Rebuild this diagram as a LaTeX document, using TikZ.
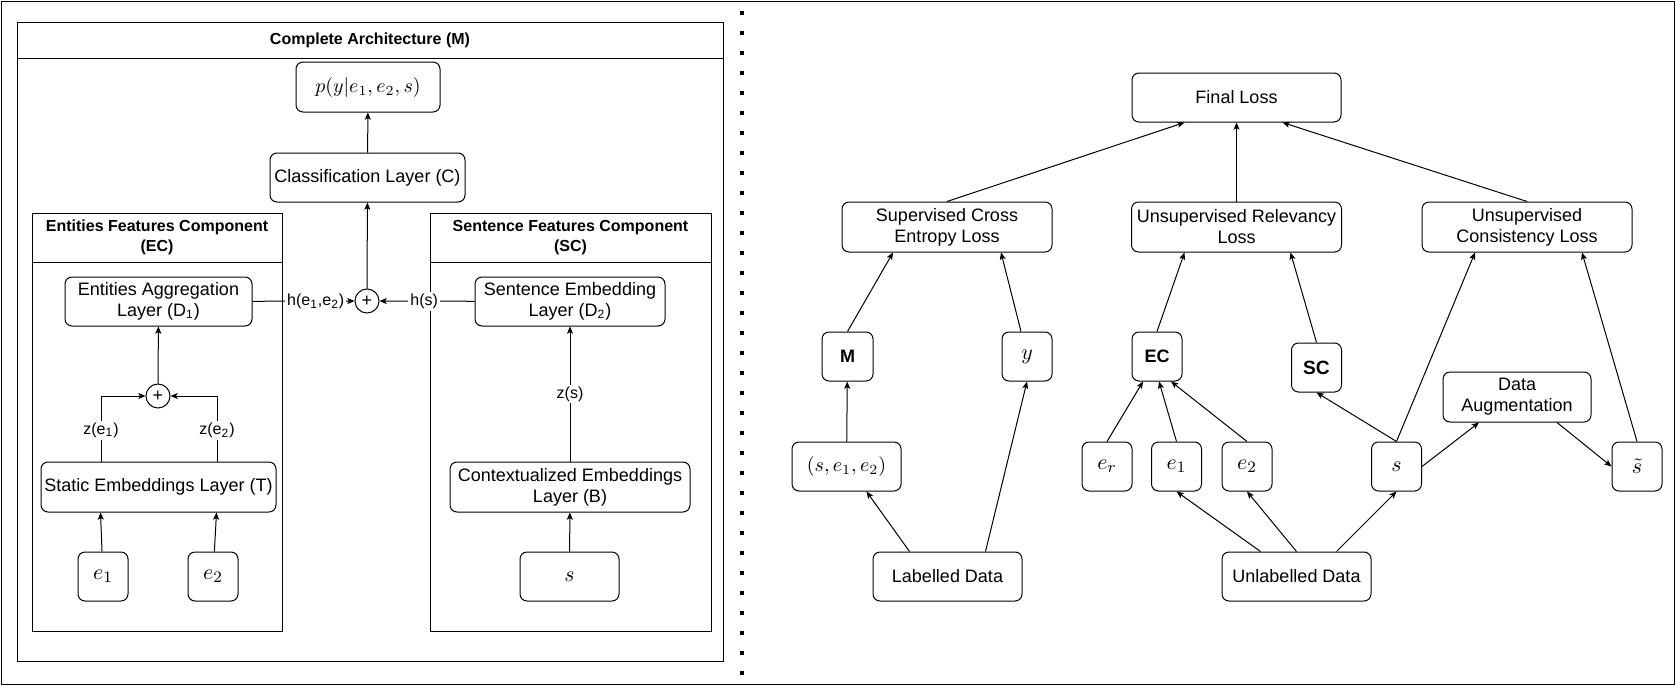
\documentclass[tikz,border=0pt]{standalone}
\usepackage{amsmath, amssymb}
\usepackage{fontspec}
\setmainfont{Liberation Sans}
\usepackage{tikz}
\usetikzlibrary{arrows.meta, calc}

\begin{document}
\begin{tikzpicture}[x=0.5pt, y=-0.5pt, line width=0.5pt,
    box/.style={draw, rounded corners=3.5pt, align=center, inner sep=1pt, minimum height=24.5pt, font=\fontsize{9}{10.5}\selectfont},
    mbox/.style={box, font=\fontsize{10}{12}\selectfont},
    ebox/.style={box, minimum width=25pt, font=\fontsize{11}{13}\selectfont},
    bbox/.style={box, font=\bfseries\fontsize{9}{10.5}\selectfont},
    plusnode/.style={draw, circle, minimum size=12pt, inner sep=0pt, font=\fontsize{9}{10}\selectfont},
    lane/.style={font=\bfseries\fontsize{8}{10}\selectfont, align=center},
    lbl/.style={fill=white, inner sep=1pt, font=\fontsize{8}{9}\selectfont},
    arr/.style={-{Stealth[length=3.6pt, width=3pt, inset=0.8pt]}}
  ]
  \useasboundingbox (0,0) rectangle (1675,685);
  \draw (1,1) rectangle (1674,684);

  % left half: the model
  \draw (17,22) rectangle (723,661);
  \draw (17,58) -- (723,58);
  \node[lane] (mtitle) at (370,40) {Complete Architecture (M)};

  \draw (32,213) rectangle (282,631);
  \draw (32,262) -- (282,262);
  \node[lane] (ectitle) at (157,237.5) {Entities Features Component\\(EC)};

  \draw (430,213) rectangle (711,631);
  \draw (430,262) -- (711,262);
  \node[lane] (sctitle) at (570.5,237.5) {Sentence Features Component\\(SC)};

  \node[box, minimum width=72pt, minimum height=25pt, font=\fontsize{9.6}{12}\selectfont] (prob) at (368,87) {$p(y|e_1,e_2,s)$};
  \node[box, minimum width=97.5pt] (cls) at (367.5,177.5) {Classification Layer (C)};
  \node[plusnode] (cat) at (367,301) {+};
  \node[box, minimum width=93.5pt] (dA) at (158.5,301.5) {Entities Aggregation\\Layer (D\textsubscript{1})};
  \node[box, minimum width=95pt] (dB) at (570,301.5) {Sentence Embedding\\Layer (D\textsubscript{2})};
  \node[plusnode] (ecat) at (158,396) {+};
  \node[box, minimum width=117.5pt, minimum height=25pt] (stat) at (158.5,487) {Static Embeddings Layer (T)};
  \node[box, minimum width=120pt, minimum height=25pt] (ctx) at (570,487) {Contextualized Embeddings\\Layer (B)};
  \node[ebox] (ea) at (103,576.5) {$e_1$};
  \node[ebox] (eb) at (213,576.5) {$e_2$};
  \node[ebox, minimum width=49.5pt] (sent) at (569.5,576.5) {$s$};

  \draw[arr] (cls) -- (prob);
  \draw[arr] (cat) -- (cls);
  \draw[arr] (dA) -- node[lbl, pos=0.62] {h(e\textsubscript{1},e\textsubscript{2})} (cat);
  \draw[arr] (dB) -- node[lbl, pos=0.53] {h(s)} (cat);
  \draw[arr] (ecat) -- (dA);
  \draw[arr] ([xshift=-28.75pt]stat.north) |- node[lbl, pos=0.24] {z(e\textsubscript{1})} (ecat);
  \draw[arr] ([xshift=29.25pt]stat.north) |- node[lbl, pos=0.24] {z(e\textsubscript{2})} (ecat);
  \draw[arr] (ea) -- ([xshift=-29pt]stat.south);
  \draw[arr] (eb) -- ([xshift=29pt]stat.south);
  \draw[arr] (ctx) -- node[lbl] {z(s)} (dB);
  \draw[arr] (sent) -- (ctx);

  % separator
  \draw[line width=1.8pt, dash pattern=on 1.8pt off 8.2pt] (742,11) -- (742,676);

  % right half: the losses
  \node[box, minimum width=104.5pt] (fin) at (1236.5,97.5) {Final Loss};
  \node[box, minimum width=105pt, minimum height=25pt] (sce) at (947,227) {Supervised Cross\\Entropy Loss};
  \node[box, minimum width=105pt, minimum height=25pt] (url) at (1236.5,227) {Unsupervised Relevancy\\Loss};
  \node[box, minimum width=105pt, minimum height=25pt] (ucl) at (1527,227) {Unsupervised\\Consistency Loss};
  \node[bbox, minimum width=25.5pt] (mdl) at (847.5,356.5) {M};
  \node[ebox] (gold) at (1027,356.5) {$y$};
  \node[bbox, minimum width=25pt] (ecm) at (1157,356.5) {EC};
  \node[bbox, minimum width=25pt, font=\bfseries\fontsize{9.6}{11}\selectfont] (scm) at (1316.5,367.5) {SC};
  \node[box, minimum width=74pt, minimum height=25pt] (aug) at (1517,397) {Data\\Augmentation};
  \node[mbox, minimum width=54.5pt] (tup) at (846.5,466.5) {$(s,e_1,e_2)$};
  \node[ebox] (er) at (1107,466.5) {$e_r$};
  \node[ebox] (ua) at (1176.5,466.5) {$e_1$};
  \node[ebox] (ub) at (1247,466.5) {$e_2$};
  \node[ebox] (us) at (1396.5,466.5) {$s$};
  \node[ebox] (ut) at (1637,466.5) {$\tilde{s}$};
  \node[box, minimum width=74.5pt] (ldata) at (947.5,576.5) {Labelled Data};
  \node[box, minimum width=74.5pt] (udata) at (1296.5,576.5) {Unlabelled Data};

  \draw[arr] (sce.north) -- ([xshift=-26pt]fin.south);
  \draw[arr] (url) -- (fin);
  \draw[arr] (ucl.north) -- ([xshift=23pt]fin.south);
  \draw[arr] (mdl.north) -- ([xshift=-27pt]sce.south);
  \draw[arr] ([xshift=-3pt]gold.north) -- ([xshift=27pt]sce.south);
  \draw[arr] (ecm.north) -- ([xshift=-26pt]url.south);
  \draw[arr] (scm.north) -- ([xshift=27pt]url.south);
  \draw[arr] (us.north) -- ([xshift=-26pt]ucl.south);
  \draw[arr] (ut.north) -- ([xshift=27.5pt]ucl.south);
  \draw[arr] (us.north) -- (scm.south);
  \draw[arr] (us.east) -- ([xshift=-19pt]aug.south);
  \draw[arr] ([xshift=20pt]aug.south) -- (ut.west);
  \draw[arr] (tup) -- (mdl);
  \draw[arr] ([xshift=-19pt]ldata.north) -- ([xshift=10pt]tup.south);
  \draw[arr] ([xshift=19pt]ldata.north) -- (gold.south);
  \draw[arr] (er.north) -- ([xshift=-7pt]ecm.south);
  \draw[arr] (ua.north) -- ([xshift=1pt]ecm.south);
  \draw[arr] (ub.north) -- ([xshift=7pt]ecm.south);
  \draw[arr] ([xshift=-18pt]udata.north) -- (ua.south);
  \draw[arr] (udata.north) -- (ub.south);
  \draw[arr] ([xshift=20pt]udata.north) -- (us.south);
\end{tikzpicture}
\end{document}
